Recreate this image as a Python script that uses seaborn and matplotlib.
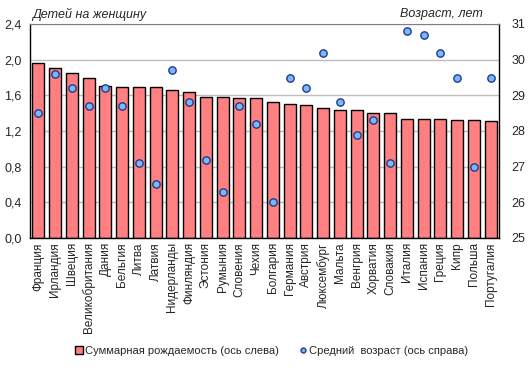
import numpy as np
import pandas as pd
import matplotlib
matplotlib.use("Agg")
import matplotlib.pyplot as plt
from matplotlib.lines import Line2D
from matplotlib.ticker import FuncFormatter
import seaborn as sns

countries = ["Франция", "Ирландия", "Швеция", "Великобритания", "Дания", "Бельгия",
             "Литва", "Латвия", "Нидерланды", "Финляндия", "Эстония", "Румыния",
             "Словения", "Чехия", "Болгария", "Германия", "Австрия", "Люксембург",
             "Мальта", "Венгрия", "Хорватия", "Словакия", "Италия", "Испания",
             "Греция", "Кипр", "Польша", "Португалия"]
fertility = [1.96, 1.91, 1.85, 1.79, 1.70, 1.69, 1.69, 1.69, 1.66, 1.64, 1.58, 1.58,
             1.57, 1.57, 1.52, 1.50, 1.49, 1.46, 1.44, 1.44, 1.40, 1.40, 1.34, 1.33,
             1.33, 1.32, 1.32, 1.31]
mean_age = [28.5, 29.6, 29.2, 28.7, 29.2, 28.7, 27.1, 26.5, 29.7, 28.8, 27.2, 26.3,
            28.7, 28.2, 26.0, 29.5, 29.2, 30.2, 28.8, 27.9, 28.3, 27.1, 30.8, 30.7,
            30.2, 29.5, 27.0, 29.5]

df = pd.DataFrame({"country": countries, "fert": fertility, "age": mean_age})

sns.set_style("white")
plt.rcParams["font.family"] = ["Liberation Sans", "DejaVu Sans"]

fig = plt.figure(figsize=(5.29, 3.72), dpi=100)
ax = fig.add_axes([30 / 529, 1 - 238 / 372, 469 / 529, 214 / 372])

sns.barplot(data=df, x="country", y="fert", color="#FF8080", edgecolor="black",
            linewidth=1, width=0.72, saturation=1, ax=ax, zorder=2)
ax.set_ylim(0, 2.4)
ax.set_yticks(np.arange(0, 2.41, 0.4))
ax.yaxis.set_major_formatter(FuncFormatter(lambda v, p: f"{v:.1f}".replace(".", ",")))
ax.yaxis.grid(True, color="#BDBDBD", linewidth=1, zorder=0)
ax.set_axisbelow(True)
ax.set_xlabel("")
ax.set_ylabel("")
ax.set_xlim(-0.5, len(countries) - 0.5)
ax.tick_params(axis="x", rotation=90, labelsize=8.5, length=0, pad=3)
ax.tick_params(axis="y", labelsize=9, length=0, pad=6)
for s in ["left", "bottom", "right"]:
    ax.spines[s].set_color("black")
    ax.spines[s].set_linewidth(1)
ax.spines["top"].set_color("#808080")

ax2 = ax.twinx()
sns.scatterplot(data=df, x="country", y="age", ax=ax2, color="#7DB8F2",
                edgecolor="#1F3A93", linewidth=1, s=28, zorder=3, legend=False)
ax2.set_ylim(25, 31)
ax2.set_yticks(range(25, 32))
ax2.set_ylabel("")
ax2.set_xlabel("")
ax2.tick_params(axis="y", labelsize=9, length=0, pad=9)
for s in ["left", "bottom", "right", "top"]:
    ax2.spines[s].set_visible(False)

fig.text(32 / 529, 1 - 14 / 372, "Детей на женщину", fontsize=9, style="italic",
         ha="left", va="center")
fig.text(483 / 529, 1 - 14 / 372, "Возраст, лет", fontsize=9, style="italic",
         ha="right", va="center")

handles = [
    Line2D([], [], marker="s", linestyle="none", markerfacecolor="#FF8080",
           markeredgecolor="black", markersize=5.5),
    Line2D([], [], marker="o", linestyle="none", markerfacecolor="#7DB8F2",
           markeredgecolor="#1F3A93", markersize=3.5),
]
fig.legend(handles, ["Суммарная рождаемость (ось слева)", "Средний  возраст (ось справа)"],
           loc="center", bbox_to_anchor=(272 / 529, 1 - 351 / 372), ncol=2, frameon=False,
           fontsize=8, handlelength=0.6, handletextpad=0.3, columnspacing=1.8)

fig.savefig("out.png", dpi=100)
